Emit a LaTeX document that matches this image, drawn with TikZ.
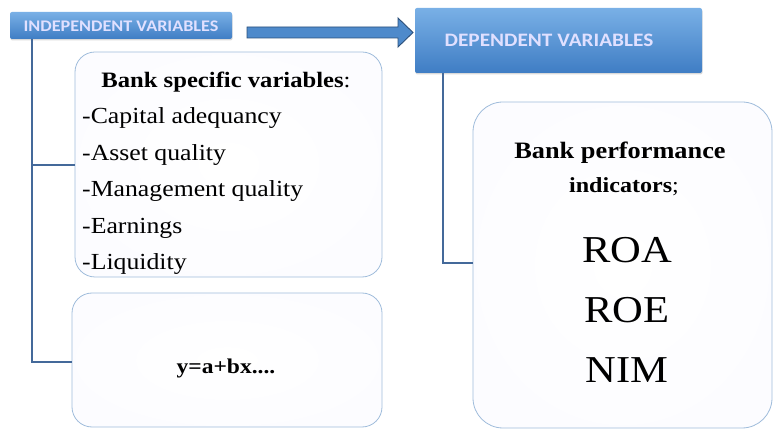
\documentclass[tikz,border=0pt]{standalone}
\usepackage{fontspec}
\setmainfont{Liberation Serif}
\newfontfamily\tnr[FakeStretch=1.12]{Liberation Serif}
\newfontfamily\hdr[FakeStretch=1.12]{Carlito}
\usetikzlibrary{shadows}
\definecolor{hdrtop}{HTML}{79B0E6}
\definecolor{hdrbot}{HTML}{3F7DC4}
\definecolor{conn}{HTML}{44699A}
\definecolor{boxline}{HTML}{9FBCDB}
\definecolor{arrfill}{HTML}{4E8ACB}
\definecolor{arrline}{HTML}{2B4F7A}
\tikzset{
  x=1pt,y=-1pt,
  hdrbox/.style={draw=none,top color=hdrtop,bottom color=hdrbot,rounded corners=2pt,
    drop shadow={shadow xshift=0.5pt,shadow yshift=-1.5pt,opacity=0.3}},
  hdrtext/.style={font=\hdr\bfseries\fontsize{16.2}{18}\selectfont,text=white!88!blue},
  contbox/.style={draw=boxline,line width=0.8pt,fill=white,inner color=white,outer color=blue!1},
  conline/.style={draw=conn,line width=1.8pt},
}
\begin{document}
\begin{tikzpicture}
\useasboundingbox (0,0) rectangle (774,430);
% header boxes
\path[hdrbox] (10,12) rectangle (232,39);
\node[hdrtext] (indep) at (121,26) {INDEPENDENT VARIABLES};
\path[hdrbox] (415,8) rectangle (702,73);
\node[hdrtext,font=\hdr\bfseries\fontsize{19}{22}\selectfont] (dep) at (549,40) {DEPENDENT VARIABLES};
% block arrow
\draw[fill=arrfill,draw=arrline,line width=0.9pt]
  (247,27) -- (398,27) -- (398,18) -- (413,32.5) -- (398,47) -- (398,38) -- (247,38) -- cycle;
% content boxes
\path[contbox,rounded corners=20pt] (75,52) rectangle (382,277);
\path[contbox,rounded corners=20pt] (72,293) rectangle (382,427);
\path[contbox,rounded corners=30pt] (473,102) rectangle (772,428);
% connectors
\coordinate (lt) at (32,39);
\coordinate (lb) at (32,362);
\draw[conline] (lt) -- (lb) -- (72,362);
\draw[conline] (32,165) -- (75,165);
\draw[conline] (443,73) -- (443,263) -- (473,263);
% left box texts
\node[font=\tnr\bfseries\fontsize{22}{26}\selectfont] (bsv) at (226,82) {Bank specific variables\textmd{:}};
\begin{scope}[every node/.style={anchor=west,font=\tnr\fontsize{23}{26}\selectfont,inner sep=0pt}]
\node (l1) at (82,118) {-Capital adequancy};
\node (l2) at (82,155) {-Asset quality};
\node (l3) at (82,191) {-Management quality};
\node (l4) at (82,228) {-Earnings};
\node (l5) at (82,264) {-Liquidity};
\end{scope}
\node[font=\tnr\bfseries\fontsize{21}{24}\selectfont] (eq) at (226,368) {y=a+bx....};
% right box texts
\node[font=\tnr\bfseries\fontsize{23.5}{26}\selectfont] (bpi1) at (620,153) {Bank performance};
\node[font=\tnr\bfseries\fontsize{21.5}{24}\selectfont] (bpi2) at (624,187) {indicators\textmd{;}};
\node[font=\tnr\fontsize{38}{44}\selectfont] (roa) at (627,250) {ROA};
\node[font=\tnr\fontsize{38}{44}\selectfont] (roe) at (627,310) {ROE};
\node[font=\tnr\fontsize{38}{44}\selectfont] (nim) at (627,370) {NIM};
\end{tikzpicture}
\end{document}
